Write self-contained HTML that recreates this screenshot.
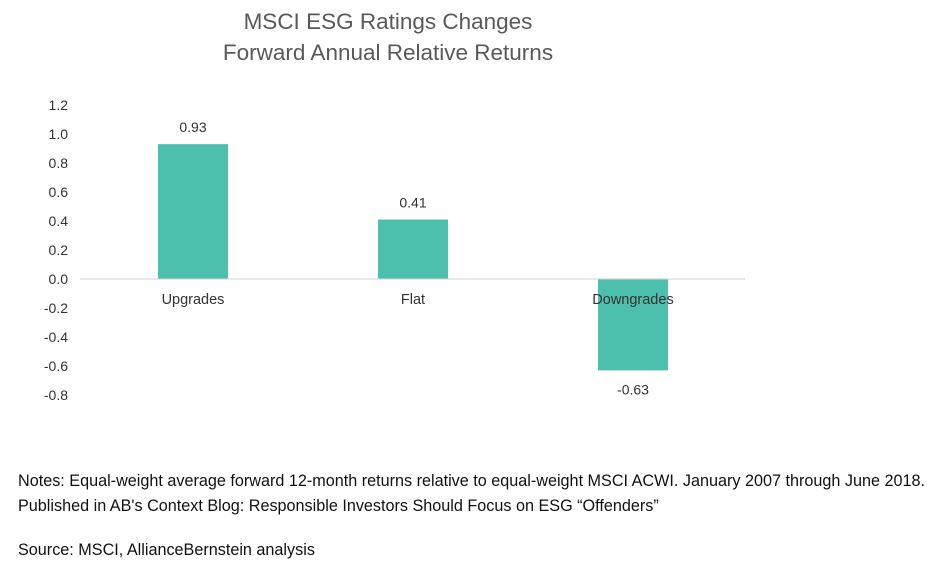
<!DOCTYPE html>
<html><head><meta charset="utf-8"><style>
body{margin:0;background:#fff;width:940px;height:579px;overflow:hidden;font-family:"Liberation Sans",sans-serif}
.note{position:absolute;left:18px;font-size:16.2px;color:#111;white-space:nowrap}
</style></head><body>
<svg width="940" height="579" style="position:absolute;left:0;top:0">
<g id="g"></g>
</svg>
<div class="note" style="top:472px">Notes: Equal-weight average forward 12-month returns relative to equal-weight MSCI ACWI. January 2007 through June 2018.</div>
<div class="note" style="top:497px">Published in AB's Context Blog: Responsible Investors Should Focus on ESG “Offenders”</div>
<div class="note" style="top:541px">Source: MSCI, AllianceBernstein analysis</div>
<script>
const categories=["Upgrades","Flat","Downgrades"];
const values=[0.93,0.41,-0.63];
const valueLabels=["0.93","0.41","-0.63"];
const ticks=[1.2,1.0,0.8,0.6,0.4,0.2,0.0,-0.2,-0.4,-0.6,-0.8];
const tickLabels=["1.2","1.0","0.8","0.6","0.4","0.2","0.0","-0.2","-0.4","-0.6","-0.8"];
const NS="http://www.w3.org/2000/svg";
const g=document.getElementById('g');
const y=v=>279-v*145;
const x=i=>193+i*220;
function mk(t,a,txt){const e=document.createElementNS(NS,t);for(const k in a)e.setAttribute(k,a[k]);if(txt!=null)e.textContent=txt;g.appendChild(e);return e;}
let t1=mk('text',{x:388,y:29,'text-anchor':'middle','font-size':22.5,fill:'#595959','font-family':'Liberation Sans, sans-serif'},'MSCI ESG Ratings Changes');


let t2=mk('text',{x:388,y:60,'text-anchor':'middle','font-size':22.5,fill:'#595959','font-family':'Liberation Sans, sans-serif'},'Forward Annual Relative Returns');


ticks.forEach((v,i)=>{const e=mk('text',{x:68,y:y(v)+5,'text-anchor':'end','font-size':14,fill:'#333','font-family':'Liberation Sans, sans-serif'},tickLabels[i]);

});
values.forEach((v,i)=>{
const top=Math.min(y(v),y(0)),h=Math.abs(y(v)-y(0));
const b=mk('rect',{x:x(i)-35,y:top,width:70,height:h,fill:'#4dbfad'});


const ly=v>=0?y(v)-12:y(v)+24;
const l=mk('text',{x:x(i),y:ly,'text-anchor':'middle','font-size':14,fill:'#333','font-family':'Liberation Sans, sans-serif'},valueLabels[i]);


});
const ax=mk('line',{x1:80,x2:745,y1:y(0),y2:y(0),stroke:'#d0d0d0','stroke-width':1});


categories.forEach((c,i)=>{const e=mk('text',{x:x(i),y:304,'text-anchor':'middle','font-size':14.5,fill:'#333','font-family':'Liberation Sans, sans-serif'},c);

});
</script>
</body></html>
